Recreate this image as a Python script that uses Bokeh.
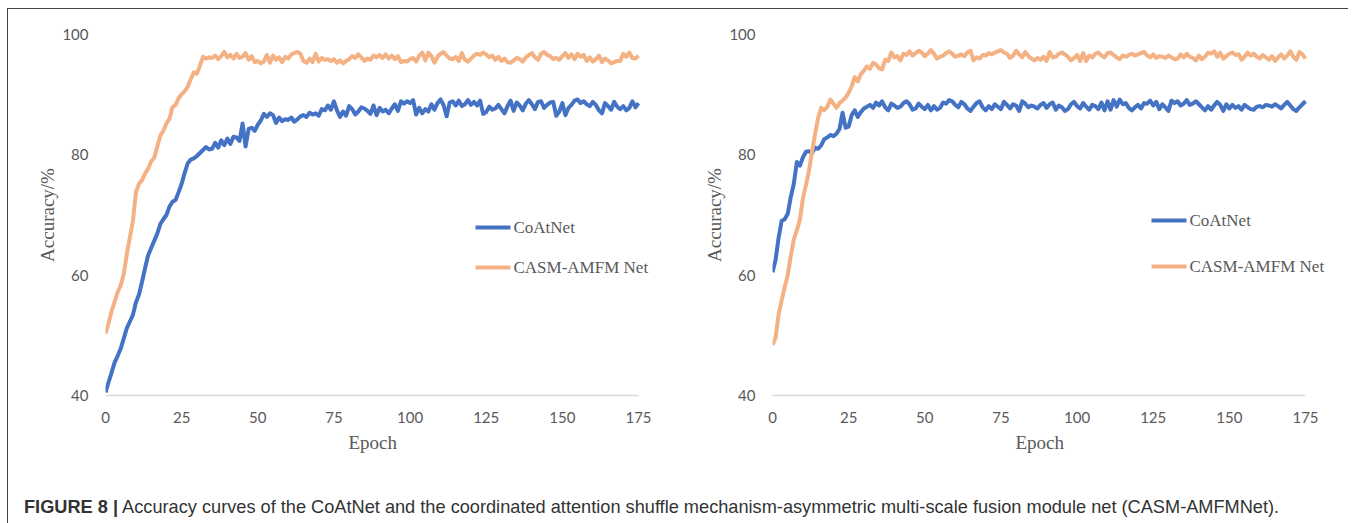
from bokeh.plotting import figure
from bokeh.layouts import row, column
from bokeh.models import Div, FixedTicker, Range1d, Label, BoxAnnotation, Title
from bokeh.embed import file_html
from bokeh.resources import INLINE

epochs = list(range(176))

left_coatnet = [
    40.5, 42.2, 43.8, 45.5, 46.6, 47.8, 49.5, 51.2, 52.3, 53.4,
    55.5, 56.8, 58.9, 61.2, 63.3, 64.5, 65.7, 66.9, 68.5, 69.3,
    70.0, 71.4, 72.2, 72.5, 73.8, 75.2, 77.0, 78.6, 79.2, 79.4,
    79.8, 80.3, 80.8, 81.3, 80.9, 81.0, 82.0, 81.2, 82.4, 81.6,
    82.7, 81.8, 83.0, 82.9, 82.3, 85.2, 81.4, 84.3, 84.5, 84.0,
    85.0, 85.7, 86.8, 86.3, 86.9, 86.6, 85.3, 86.2, 85.6, 85.9,
    85.8, 86.2, 85.5, 85.9, 86.4, 86.6, 86.3, 87.0, 86.7, 86.9,
    86.5, 87.6, 87.4, 88.2, 87.5, 88.9, 87.4, 86.3, 87.2, 86.5,
    88.1, 87.6, 86.7, 87.2, 87.9, 87.7, 87.3, 86.8, 88.2, 86.6,
    87.8, 87.2, 87.5, 86.9, 87.7, 88.4, 87.3, 88.9, 88.5, 88.9,
    88.6, 89.1, 86.7, 87.8, 86.9, 87.6, 87.2, 88.4, 87.5, 88.6,
    89.2, 88.3, 86.4, 88.7, 88.9, 88.2, 89.0, 88.1, 88.4, 89.1,
    88.3, 88.8, 88.2, 89.0, 86.8, 87.1, 88.0, 87.5, 87.7, 88.3,
    87.6, 86.9, 88.1, 89.0, 87.3, 88.7, 88.2, 87.4, 88.5, 89.1,
    88.4, 87.6, 88.8, 88.9, 87.8, 88.3, 88.7, 88.8, 86.5, 87.2,
    88.6, 86.6, 87.8, 88.3, 89.0, 89.2, 88.6, 88.9, 88.4, 88.1,
    88.8, 88.3, 87.4, 86.9, 88.6, 88.1, 87.5, 88.8, 88.0, 87.6,
    88.1, 87.4, 87.8, 88.9, 87.9, 88.6,
]

left_casm = [
    50.3, 52.0, 54.0, 55.6, 57.2, 58.3, 60.2, 63.5, 66.3, 69.0,
    73.8, 75.2, 75.8, 76.9, 77.7, 78.9, 79.5, 81.4, 83.2, 84.0,
    85.2, 86.0, 87.9, 88.3, 89.4, 90.1, 90.6, 91.3, 92.6, 93.7,
    93.5, 94.8, 96.3, 96.0, 96.2, 96.1, 96.5, 95.9, 96.4, 97.1,
    96.2, 96.6, 96.0, 96.8, 96.1, 96.3, 96.9, 95.8, 96.4, 95.4,
    95.6, 95.2, 95.5, 96.6, 95.3, 96.5, 95.8, 96.2, 95.4, 96.3,
    96.0, 96.7, 96.9, 97.1, 96.8, 95.6, 95.3, 96.0, 95.4, 96.8,
    95.5, 96.1, 95.8, 95.9, 95.6, 95.9, 95.3, 95.7, 95.2, 95.6,
    95.9, 96.4, 96.1, 96.7, 96.2, 95.6, 96.0, 95.8, 96.5, 96.2,
    96.6, 96.1, 96.7, 96.0, 96.5, 95.9, 96.4, 95.4, 95.6, 95.5,
    95.9, 96.1, 95.5, 96.5, 97.0, 95.7, 97.0, 96.4, 95.3, 96.3,
    96.8, 97.1, 96.5, 96.0, 95.9, 96.3, 95.6, 96.9, 95.8, 95.5,
    96.0, 96.5, 96.8, 96.6, 97.0, 96.7, 96.2, 96.5, 95.8, 96.3,
    95.6, 96.0, 95.4, 95.3, 95.7, 96.1, 95.9, 95.5, 96.2, 96.6,
    96.9, 96.2, 95.8, 96.8, 97.1, 96.6, 96.4, 95.9, 96.1, 95.8,
    96.4, 96.9, 96.1, 96.7, 95.9, 96.8, 96.3, 96.6, 95.6, 96.2,
    95.5, 95.9, 96.5, 95.4, 96.0, 95.7, 95.2, 95.4, 95.6, 95.6,
    96.8, 96.3, 97.0, 96.1, 96.0, 96.5,
]

right_coatnet = [
    60.5, 62.5, 66.2, 69.0, 69.3, 70.2, 73.0, 75.2, 78.8, 78.2,
    79.6, 80.5, 80.6, 80.3, 81.2, 81.0, 81.6, 82.6, 82.9, 83.3,
    83.1, 83.5, 84.3, 87.0, 84.5, 84.7, 86.6, 87.4, 86.3, 87.1,
    87.7, 88.0, 88.3, 87.8, 88.7, 88.2, 88.9, 87.9, 87.4, 88.5,
    88.2, 87.8, 88.0, 88.6, 88.9, 88.4, 87.5, 87.7, 88.5, 88.0,
    87.6, 88.3, 87.4, 88.1, 87.5, 87.8, 88.7, 88.5, 89.1, 88.9,
    88.3, 87.9, 88.8, 88.4, 87.7, 87.3, 88.0, 88.6, 88.9, 87.9,
    87.4, 88.1, 87.6, 88.4, 88.0, 87.6, 88.8, 88.3, 87.7, 88.4,
    88.2, 87.3, 88.9, 88.5, 87.9, 88.2, 88.0, 87.7, 88.3, 88.6,
    87.8, 88.4, 88.7, 87.5, 88.2, 87.9, 87.3, 87.6, 88.4, 88.8,
    88.1, 87.7, 88.6, 88.0, 87.5, 88.3, 88.1, 87.6, 88.7, 87.4,
    88.9, 87.5, 89.1, 88.0, 89.2, 88.4, 88.6, 87.8, 87.4, 87.9,
    88.3, 87.7, 88.6, 88.5, 89.0, 88.2, 88.8, 87.6, 88.4, 87.9,
    87.3, 89.0, 88.6, 88.9, 88.2, 88.5, 89.1, 88.3, 88.5, 88.9,
    88.4, 87.9, 87.4, 88.1, 87.5, 88.2, 88.8, 88.3, 87.3, 88.4,
    87.7, 88.3, 87.8, 88.1, 87.5, 88.3, 87.9, 87.6, 87.5, 88.0,
    88.1, 87.9, 88.3, 88.2, 88.0, 88.4, 88.1, 87.7, 88.3, 88.8,
    88.2, 87.6, 87.3, 87.9, 88.4, 88.9,
]

right_casm = [
    48.4, 49.6, 53.5, 55.8, 58.0, 60.0, 63.2, 65.9, 67.5, 69.2,
    72.8, 75.0, 77.4, 80.6, 83.5, 86.2, 87.8, 87.4, 88.0, 89.2,
    88.5, 87.8, 88.6, 89.0, 89.5, 90.3, 91.4, 92.9, 92.2, 93.4,
    94.0, 94.7, 94.3, 95.3, 95.0, 94.4, 94.2, 95.8, 95.6, 97.0,
    96.2, 96.4, 95.7, 96.8, 96.6, 97.2, 96.5, 96.9, 97.3, 97.0,
    96.4, 96.8, 97.4, 96.8, 96.0, 96.3, 96.5, 96.9, 97.2, 96.8,
    96.3, 96.5, 96.7, 96.4, 97.0, 97.3, 95.7, 96.2, 96.0, 96.6,
    96.5, 96.9, 96.7, 97.0, 97.2, 97.4, 97.0, 96.8, 96.1, 96.5,
    97.3, 96.7, 96.2, 97.1, 96.4, 96.0, 95.7, 96.1, 95.8, 96.3,
    95.6, 97.1, 96.2, 96.3, 96.8, 97.0, 96.7, 96.3, 95.7, 96.1,
    96.6, 95.6, 96.9, 95.6, 96.5, 96.2, 96.8, 97.0, 96.5, 96.2,
    96.9, 97.0, 96.6, 96.2, 95.9, 96.5, 96.3, 96.6, 96.8, 96.5,
    96.7, 96.9, 97.1, 96.5, 96.2, 96.7, 96.1, 96.4, 96.3, 96.1,
    96.5, 96.2, 95.9, 96.0, 96.7, 96.2, 96.8, 96.3, 96.1, 95.7,
    96.5, 95.9, 96.3, 97.0, 96.8, 97.2, 96.3, 97.0, 96.0, 96.4,
    96.8, 97.0, 96.6, 96.7, 95.8, 96.3, 97.0, 96.5, 96.8, 96.3,
    96.0, 96.6, 96.2, 95.8, 96.4, 95.6, 96.2, 96.7, 96.0, 96.5,
    97.2, 96.3, 95.8, 97.1, 96.7, 96.0,
]

x_ticks = [0, 25, 50, 75, 100, 125, 150, 175]
y_ticks = [40, 60, 80, 100]
x_min, x_max = 0, 175
series_names = ["CoAtNet", "CASM-AMFM Net"]
x_label = "Epoch"
y_label = "Accuracy/%"
caption_bold = "FIGURE 8 |"
caption_text = ("Accuracy curves of the CoAtNet and the coordinated attention shuffle "
                "mechanism-asymmetric multi-scale fusion module net (CASM-AMFMNet).")

BLUE = "#4472C4"
ORANGE = "#F4B183"
GRAY = "#595959"
SERIF = "Liberation Serif"
TICKFONT = "Lato"

FIG_W, FIG_H = 667, 462
BORDER_L, BORDER_R = 97, 10
AXIS_W = 533  # pixel length of the 0..175 axis
FRAME_W = FIG_W - BORDER_L - BORDER_R
# the frame extends past 175 so the legend text is not clipped; axis line bounded at 175
x_end = x_max * FRAME_W / AXIS_W
EPOCH_W = 47  # approx. width of the x-axis label text


def make_panel(blue, orange, legend_x, legend_y1, legend_y2):
    p = figure(width=FIG_W, height=FIG_H, output_backend="svg", toolbar_location=None,
               x_range=Range1d(x_min, x_end), y_range=Range1d(40, 100),
               min_border_left=BORDER_L, min_border_right=BORDER_R,
               min_border_top=25, min_border_bottom=76)
    p.outline_line_color = None
    p.grid.visible = False
    p.line(epochs, blue, line_color=BLUE, line_width=4, line_join="round")
    p.line(epochs, orange, line_color=ORANGE, line_width=4, line_join="round")

    p.xaxis.ticker = FixedTicker(ticks=x_ticks)
    p.xaxis.bounds = (x_min, x_max)
    p.yaxis.ticker = FixedTicker(ticks=y_ticks)
    for ax in (p.xaxis[0], p.yaxis[0]):
        ax.major_tick_line_color = None
        ax.minor_tick_line_color = None
        ax.major_label_text_font = TICKFONT
        ax.major_label_text_font_size = "15px"
        ax.major_label_text_color = GRAY
        ax.axis_label_text_font = SERIF
        ax.axis_label_text_font_style = "normal"
        ax.axis_label_text_color = GRAY
        ax.axis_label_text_font_size = "19px"
    p.xaxis.axis_line_color = "#D9D9D9"
    p.xaxis.axis_line_width = 1.5
    p.yaxis.axis_line_color = None
    p.xaxis.major_label_standoff = 10
    p.yaxis.major_label_standoff = 11
    p.yaxis.axis_label = y_label
    p.yaxis.axis_label_standoff = 1

    # x-axis label as a bottom title, centred under the 0..175 span of the axis
    p.add_layout(Title(text=x_label, align="left", offset=AXIS_W / 2 - EPOCH_W / 2,
                       text_font=SERIF, text_font_size="19px", text_font_style="normal",
                       text_color=GRAY, standoff=8), "below")

    # legend drawn as swatches + labels (screen units relative to the plot frame)
    for name, color, ly in ((series_names[0], BLUE, legend_y1), (series_names[1], ORANGE, legend_y2)):
        p.add_layout(BoxAnnotation(left=legend_x, right=legend_x + 35, bottom=ly - 2, top=ly + 2,
                                   left_units="screen", right_units="screen",
                                   bottom_units="screen", top_units="screen",
                                   fill_color=color, fill_alpha=1.0, line_color=None))
        p.add_layout(Label(x=legend_x + 38, y=ly, x_units="screen", y_units="screen",
                           text=name, text_font=SERIF, text_font_size="17px",
                           text_color=GRAY, text_baseline="middle", text_align="left"))
    return p


p1 = make_panel(left_coatnet, left_casm, 370, 168, 128)
p2 = make_panel(right_coatnet, right_casm, 379, 175, 129)

cap = Div(text=(f'<span style="font-weight:bold">{caption_bold}</span> {caption_text}'),
          width=1330, height=50,
          styles={"font-family": "'Liberation Sans', sans-serif",
                  "font-size": "18.2px", "color": "#333333",
                  "padding-top": "18px", "padding-left": "11px",
                  "white-space": "nowrap"})

layout = column(row(p1, p2), cap, margin=(8, 0, 0, 7),
                styles={"border-top": "1px solid #444444", "border-left": "1px solid #444444"})

open("out.html", "w").write(file_html(layout, INLINE))
